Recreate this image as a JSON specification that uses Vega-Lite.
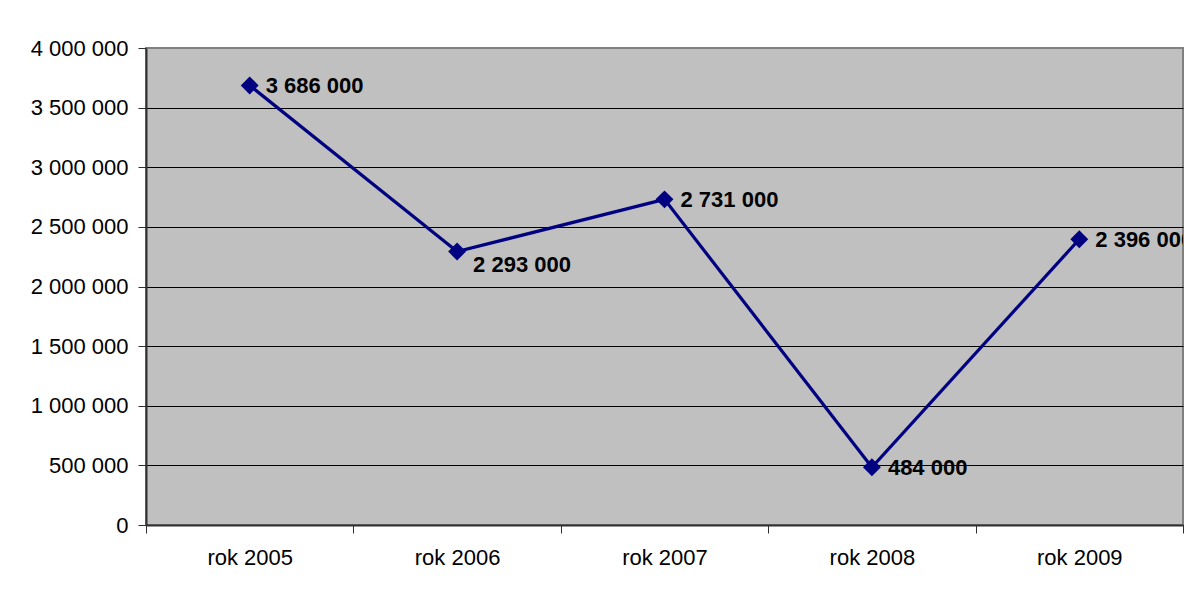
{
  "$schema": "https://vega.github.io/schema/vega-lite/v6.json",
  "autosize": {"type": "none"},
  "padding": {"left": 146, "top": 48, "right": 3, "bottom": 64},
  "width": 1037,
  "height": 477,
  "background": "white",
  "config": {
    "locale": {"number": {"decimal": ",", "thousands": " ", "grouping": [3], "currency": ["", ""]}},
    "view": {"fill": "#C0C0C0", "stroke": "#808080", "strokeWidth": 2},
    "font": "Liberation Sans"
  },
  "data": {
    "values": [
      {"rok": "rok 2005", "wartosc": 3686000},
      {"rok": "rok 2006", "wartosc": 2293000},
      {"rok": "rok 2007", "wartosc": 2731000},
      {"rok": "rok 2008", "wartosc": 484000},
      {"rok": "rok 2009", "wartosc": 2396000}
    ]
  },
  "encoding": {
    "x": {
      "field": "rok", "type": "ordinal", "sort": null,
      "scale": {"type": "band", "paddingInner": 0, "paddingOuter": 0},
      "axis": {
        "title": null, "labelAngle": 0, "labelFont": "Liberation Sans", "labelFontSize": 22,
        "labelColor": "black", "tickBand": "extent", "tickSize": 8, "tickColor": "#303030",
        "domainColor": "#303030", "domainWidth": 2, "labelPadding": 14, "grid": false
      }
    },
    "y": {
      "field": "wartosc", "type": "quantitative",
      "scale": {"domain": [0, 4000000], "nice": false},
      "axis": {
        "title": null, "format": ",d",
        "values": [0, 500000, 1000000, 1500000, 2000000, 2500000, 3000000, 3500000, 4000000],
        "labelOverlap": false,
        "labelFont": "Liberation Sans", "labelFontSize": 22, "labelColor": "black",
        "tickSize": 8, "tickColor": "#303030", "labelPadding": 10,
        "domainColor": "#303030", "domainWidth": 2,
        "grid": true,
        "gridColor": {"condition": {"test": "datum.value == 4000000", "value": "#808080"}, "value": "black"},
        "gridWidth": 1
      }
    }
  },
  "layer": [
    {
      "mark": {"type": "line", "color": "#000080", "strokeWidth": 3.2}
    },
    {
      "mark": {"type": "point", "shape": "diamond", "filled": true, "size": 320, "color": "#000080", "opacity": 1}
    },
    {
      "transform": [{"filter": "datum.rok != 'rok 2006'"}],
      "mark": {"type": "text", "align": "left", "baseline": "middle", "dx": 16, "dy": 1, "fontSize": 22, "fontWeight": "bold", "font": "Liberation Sans", "color": "black", "clip": true},
      "encoding": {"text": {"field": "wartosc", "type": "quantitative", "format": ",d"}}
    },
    {
      "transform": [{"filter": "datum.rok == 'rok 2006'"}],
      "mark": {"type": "text", "align": "left", "baseline": "middle", "dx": 16, "dy": 13, "fontSize": 22, "fontWeight": "bold", "font": "Liberation Sans", "color": "black", "clip": true},
      "encoding": {"text": {"field": "wartosc", "type": "quantitative", "format": ",d"}}
    }
  ]
}
